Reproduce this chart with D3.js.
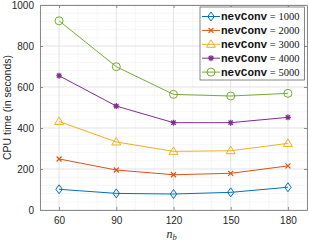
<!DOCTYPE html>
<meta charset="utf-8">
<script src="https://d3js.org/d3.v7.min.js"></script>
<style>
  body { margin: 0; background: #fff; }
  text { font-family: "Liberation Sans", Arial, sans-serif; }
</style>
<div id="chart"></div>
<script>
// data
var nb = [60, 90, 120, 150, 180];
var seriesNames = ["1000", "2000", "3000", "4000", "5000"];
var cpu1000 = [101, 81, 78, 86, 111];
var cpu2000 = [249, 195, 172, 179, 215];
var cpu3000 = [432, 332, 286, 289, 325];
var cpu4000 = [655, 507, 426, 426, 452];
var cpu5000 = [923, 699, 564, 556, 569];
var yTicks = [0, 200, 400, 600, 800, 1000];

var allSeries = [cpu1000, cpu2000, cpu3000, cpu4000, cpu5000];
var colors = ["#0072BD", "#D95319", "#EDB120", "#7E2F8E", "#77AC30"];
var shapes = ["diamond", "cross", "triangle", "star", "circle"];

var W = 309, H = 242;
var margin = {top: 5, right: 2, bottom: 32, left: 40};
var width = W - margin.left - margin.right,
    height = H - margin.top - margin.bottom;

var svg = d3.select("#chart").append("svg")
    .attr("width", W).attr("height", H);
var g = svg.append("g")
    .attr("transform", "translate(" + margin.left + "," + margin.top + ")");

var x = d3.scaleLinear().domain([50, 190]).range([0, width]);
var y = d3.scaleLinear().domain([0, 1000]).range([height, 0]);

// minor grid
g.append("g").selectAll("line")
  .data(d3.range(50, 191, 10))
  .enter().append("line")
    .attr("x1", function(d) { return x(d); }).attr("x2", function(d) { return x(d); })
    .attr("y1", 0).attr("y2", height)
    .attr("stroke", "#f0f0f0").attr("stroke-width", 0.6);
g.append("g").selectAll("line")
  .data(d3.range(0, 1001, 40))
  .enter().append("line")
    .attr("y1", function(d) { return y(d); }).attr("y2", function(d) { return y(d); })
    .attr("x1", 0).attr("x2", width)
    .attr("stroke", "#f0f0f0").attr("stroke-width", 0.6);

// major grid
g.append("g").selectAll("line")
  .data(nb)
  .enter().append("line")
    .attr("x1", function(d) { return x(d); }).attr("x2", function(d) { return x(d); })
    .attr("y1", 0).attr("y2", height)
    .attr("stroke", "#dedede").attr("stroke-width", 0.7);
g.append("g").selectAll("line")
  .data(yTicks)
  .enter().append("line")
    .attr("y1", function(d) { return y(d); }).attr("y2", function(d) { return y(d); })
    .attr("x1", 0).attr("x2", width)
    .attr("stroke", "#dedede").attr("stroke-width", 0.7);

// axes, ticks inward, box on
var axisColor = "#8a8a8a";
function styleAxis(sel) {
  sel.select(".domain").attr("stroke", axisColor);
  sel.selectAll(".tick line").attr("stroke", axisColor);
  sel.selectAll(".tick text").attr("fill", "#262626")
    .style("font-size", "10px")
    .style("font-family", "'Liberation Sans', Arial, sans-serif");
}
g.append("g")
  .attr("transform", "translate(0," + height + ")")
  .call(d3.axisBottom(x).tickValues(nb).tickSize(-3).tickSizeOuter(0).tickPadding(7))
  .call(styleAxis);
g.append("g")
  .call(d3.axisTop(x).tickValues(nb).tickSize(-3).tickSizeOuter(0).tickFormat(""))
  .call(styleAxis);
g.append("g")
  .call(d3.axisLeft(y).tickValues(yTicks).tickSize(-3).tickSizeOuter(0).tickPadding(6)
    .tickFormat(d3.format("d")))
  .call(styleAxis);
g.append("g")
  .attr("transform", "translate(" + width + ",0)")
  .call(d3.axisRight(y).tickValues(yTicks).tickSize(-3).tickSizeOuter(0).tickFormat(""))
  .call(styleAxis);

// markers
function marker(sel, shape, color) {
  if (shape === "diamond") {
    sel.append("path").attr("d", "M0,-4.5L3.2,0L0,4.5L-3.2,0Z")
      .attr("fill", "none").attr("stroke", color).attr("stroke-width", 1);
  } else if (shape === "cross") {
    sel.append("path").attr("d", "M-2.5,-2.5L2.5,2.5M-2.5,2.5L2.5,-2.5")
      .attr("stroke", color).attr("stroke-width", 1.2);
  } else if (shape === "triangle") {
    sel.append("path").attr("d", "M0,-4.5L4.5,3L-4.5,3Z")
      .attr("fill", "none").attr("stroke", color).attr("stroke-width", 1);
  } else if (shape === "star") {
    sel.append("path").attr("d", "M-3,0L3,0M0,-3L0,3M-2.2,-2.2L2.2,2.2M-2.2,2.2L2.2,-2.2")
      .attr("stroke", color).attr("stroke-width", 1.2);
  } else {
    sel.append("circle").attr("r", 4)
      .attr("fill", "none").attr("stroke", color).attr("stroke-width", 1);
  }
}

var line = d3.line()
  .x(function(d, i) { return x(nb[i]); })
  .y(function(d) { return y(d); });

allSeries.forEach(function(vals, k) {
  g.append("path").datum(vals)
    .attr("d", line)
    .attr("fill", "none")
    .attr("stroke", colors[k]).attr("stroke-width", 1);
  g.append("g").selectAll("g")
    .data(vals)
    .enter().append("g")
      .attr("transform", function(d, i) { return "translate(" + x(nb[i]) + "," + y(d) + ")"; })
      .each(function() { marker(d3.select(this), shapes[k], colors[k]); });
});

// labels
svg.append("text")
  .attr("transform", "translate(11," + (margin.top + height / 2) + ") rotate(-90)")
  .attr("text-anchor", "middle")
  .attr("fill", "#262626")
  .style("font-size", "10.5px")
  .text("CPU time (in seconds)");
svg.append("text")
  .attr("x", margin.left + x(120) - 2)
  .attr("y", 238)
  .attr("text-anchor", "middle")
  .attr("fill", "#262626")
  .style("font-family", "'Liberation Serif', 'DejaVu Serif', serif")
  .style("font-style", "italic")
  .style("font-size", "12px")
  .html("n<tspan dy='2' style='font-size:8.5px'>b</tspan>");

// legend
var legend = svg.append("g").attr("transform", "translate(200,7)");
legend.append("rect")
  .attr("width", 104.5).attr("height", 73)
  .attr("fill", "#fff").attr("stroke", "#555").attr("stroke-width", 0.7);
seriesNames.forEach(function(name, k) {
  var row = legend.append("g").attr("transform", "translate(0," + (9.5 + k * 13.9) + ")");
  row.append("line").attr("x1", 2).attr("x2", 20)
    .attr("stroke", colors[k]).attr("stroke-width", 1);
  marker(row.append("g").attr("transform", "translate(11,0)"), shapes[k], colors[k]);
  var t = row.append("text").attr("x", 21).attr("y", 3.5)
    .attr("fill", "#111");
  t.append("tspan")
    .style("font-family", "'Liberation Mono', 'DejaVu Sans Mono', monospace")
    .style("font-weight", "bold")
    .style("font-size", "11px")
    .text("nevConv");
  t.append("tspan")
    .style("font-family", "'Liberation Serif', 'DejaVu Serif', serif")
    .style("font-size", "10.5px")
    .text(" = " + name);
});
</script>
